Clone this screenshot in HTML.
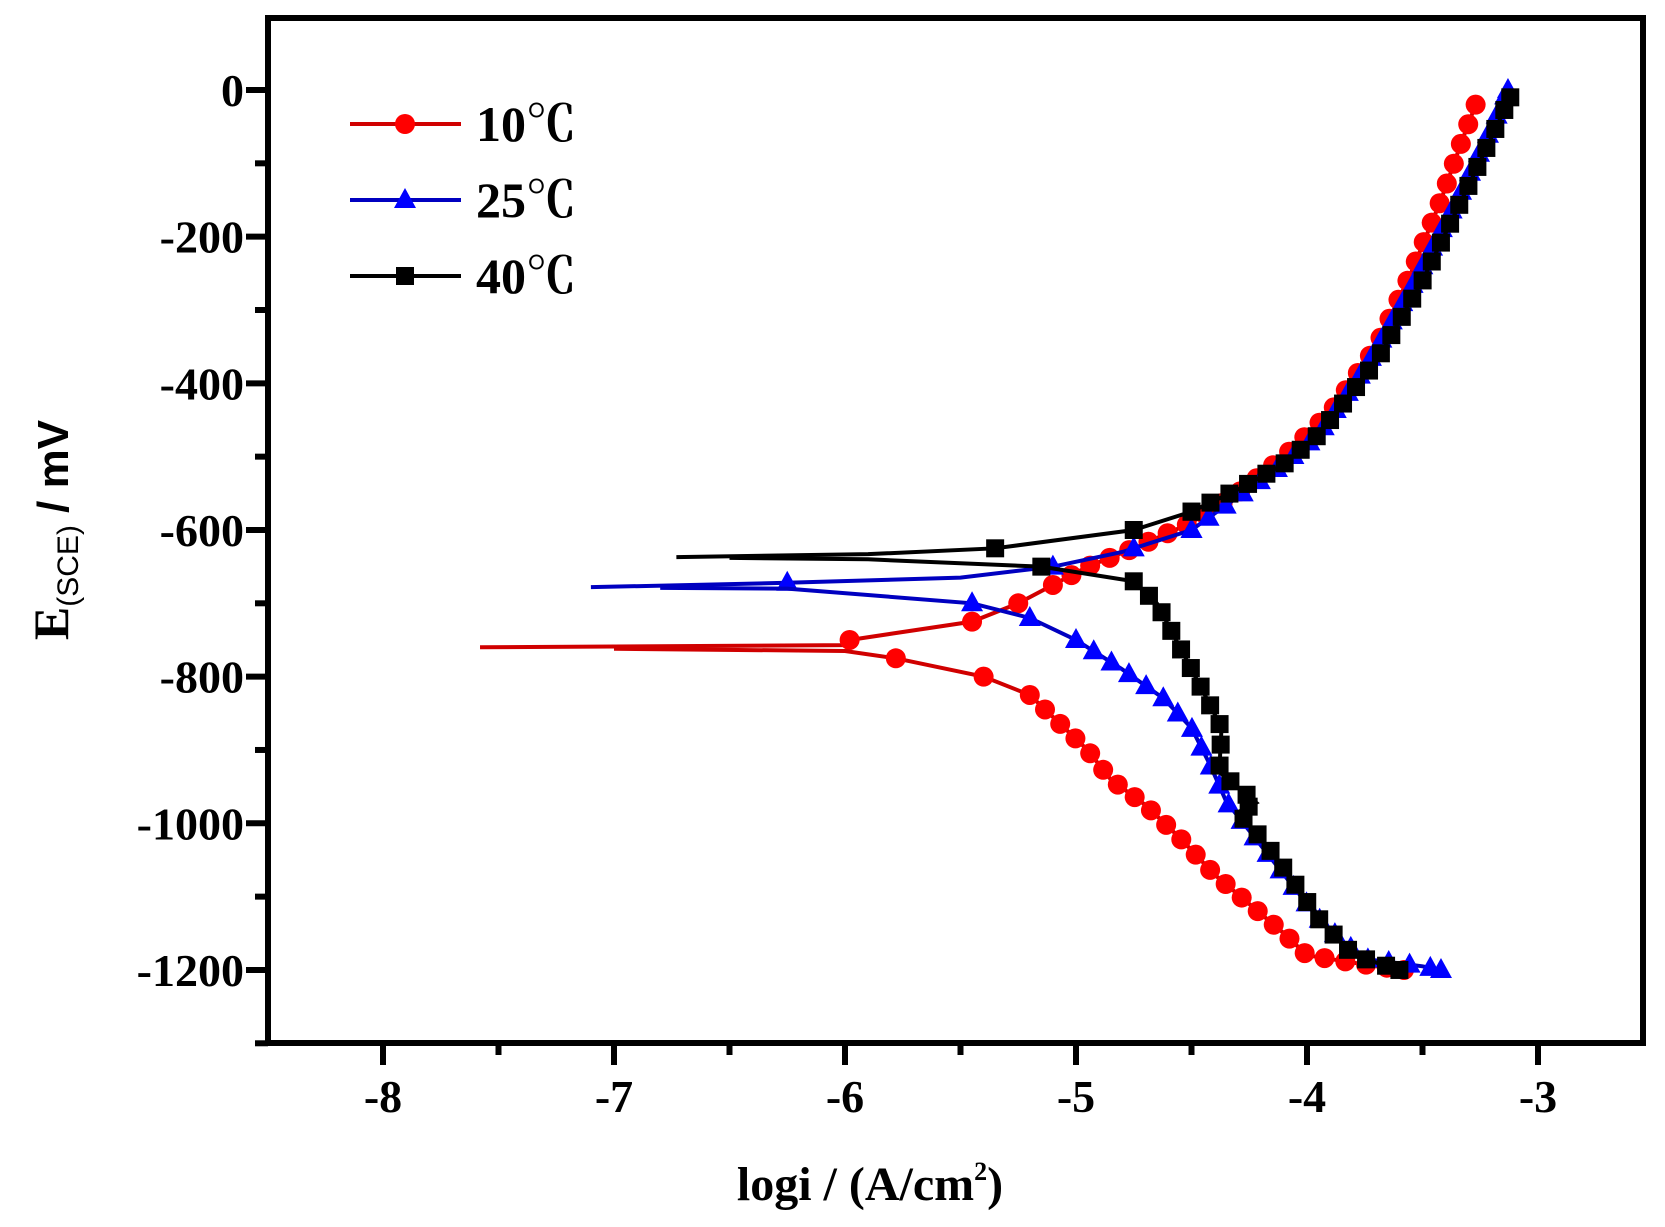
<!DOCTYPE html>
<html><head><meta charset="utf-8"><style>
html,body{margin:0;padding:0;background:#fff;}
svg{display:block;}
</style></head><body>
<svg id="s" width="1665" height="1227" xmlns="http://www.w3.org/2000/svg" font-family="Liberation Serif, serif" font-weight="bold">
<rect width="1665" height="1227" fill="#fff"/>
<g id="plot"></g>
<rect x="268" y="18" width="1375" height="1025" fill="none" stroke="#000" stroke-width="6"/>
<g id="ticks" stroke="#000" stroke-width="6"></g>
<g font-size="46" text-anchor="end" id="yl"></g>
<g font-size="46" text-anchor="middle" id="xl"></g>
<text x="870" y="1200" font-size="48" text-anchor="middle">logi / (A/cm<tspan font-size="26" dy="-20">2</tspan><tspan dy="20">)</tspan></text>
<g transform="translate(68,530) rotate(-90)">
<text x="0" y="0" font-size="50" text-anchor="middle">E<tspan font-family="Liberation Sans, sans-serif" font-size="30" font-weight="normal" dy="10">(SCE)</tspan><tspan font-family="Liberation Sans, sans-serif" font-size="44" dy="-10"> / mV</tspan></text>
</g>
<g id="leg"></g>
</svg>
<script>
const NS="http://www.w3.org/2000/svg";
const X=v=>383+(v+8)*231, Y=e=>90-e*0.7333;
function el(t,a,p){const e=document.createElementNS(NS,t);for(const k in a)e.setAttribute(k,a[k]);(p||document.getElementById('plot')).appendChild(e);return e;}
const tk=document.getElementById('ticks');
for(let e=0;e>=-1300;e-=100){const maj=e%200==0;const y=Y(e);el('line',{x1:maj?246:255,x2:268,y1:y,y2:y},tk);
 if(maj&&e>=-1200){const t=el('text',{x:244,y:y+16},document.getElementById('yl'));t.textContent=e;}}
for(let v=-8;v<=-2.6;v+=0.5){const maj=Math.abs(v-Math.round(v))<0.01;const x=X(v);el('line',{x1:x,x2:x,y1:1043,y2:maj?1065:1055},tk);
 if(maj){const t=el('text',{x:x,y:1112},document.getElementById('xl'));t.textContent=Math.round(v);}}
const S=[
{c:'#f00',lc:'#d00000',m:'o',br:[
{p:[[-7.58,-760],[-6.0,-757],[-5.98,-750],[-5.45,-725],[-5.25,-700],[-5.1,-675],[-4.95,-650],[-4.75,-625],[-4.5,-590],[-4.3,-550],[-4.1,-500],[-3.9,-440],[-3.7,-350],[-3.55,-250],[-3.42,-150],[-3.33,-70],[-3.27,-20]],
 sp:[[-5.98,-750],[-5.45,-725],[-5.25,-700]],d:5},
{p:[[-7.0,-762],[-6.0,-765],[-5.78,-775],[-5.4,-800],[-5.2,-825],[-5.05,-870],[-4.95,-900],[-4.85,-940],[-4.7,-975],[-4.55,-1020],[-4.4,-1070],[-4.25,-1110],[-4.1,-1150],[-4.0,-1180],[-3.7,-1195],[-3.58,-1200]],
 sp:[[-5.78,-775],[-5.4,-800]],d:4}]},
{c:'#00f',lc:'#0000c0',m:'t',br:[
{p:[[-7.1,-678],[-6.25,-672],[-5.5,-665],[-5.1,-650],[-4.8,-630],[-4.5,-600],[-4.3,-555],[-4.1,-510],[-3.95,-470],[-3.75,-380],[-3.55,-270],[-3.35,-150],[-3.2,-50],[-3.13,0]],
 sp:[[-6.25,-672],[-5.1,-650],[-4.75,-625],[-4.5,-600]],d:5},
{p:[[-6.8,-679],[-6.25,-680],[-5.45,-700],[-5.2,-720],[-5.0,-750],[-4.8,-790],[-4.62,-830],[-4.5,-870],[-4.42,-920],[-4.35,-970],[-4.25,-1010],[-4.1,-1070],[-3.95,-1130],[-3.85,-1160],[-3.75,-1185],[-3.5,-1195],[-3.42,-1200]],
 sp:[[-5.45,-700],[-5.2,-720]],d:4}]},
{c:'#000',lc:'#000',m:'s',br:[
{p:[[-6.73,-637],[-5.9,-633],[-5.35,-625],[-4.75,-600],[-4.5,-575],[-4.3,-545],[-4.1,-510],[-3.95,-470],[-3.7,-370],[-3.5,-260],[-3.3,-130],[-3.15,-30],[-3.12,-10]],
 sp:[[-5.35,-625],[-4.75,-600],[-4.5,-575]],d:4},
{p:[[-6.5,-638],[-5.9,-640],[-5.15,-650],[-4.75,-670],[-4.65,-700],[-4.55,-760],[-4.45,-820],[-4.37,-870],[-4.38,-930],[-4.22,-972],[-4.3,-985],[-4.2,-1020],[-4.08,-1070],[-3.95,-1130],[-3.8,-1180],[-3.6,-1200]],
 sp:[[-5.15,-650]],d:3}]}];
function mk(type,x,y,c,p){if(type=='o')el('circle',{cx:x,cy:y,r:10,fill:c},p);
 else if(type=='t')el('polygon',{points:`${x},${y-12} ${x-11},${y+8} ${x+11},${y+8}`,fill:c},p);
 else el('rect',{x:x-9,y:y-9,width:18,height:18,fill:c},p);}
S.forEach(s=>{s.br.forEach(b=>{const pts=b.p.map(p=>[X(p[0]),Y(p[1])]);
 el('polyline',{points:pts.map(p=>p.join(',')).join(' '),fill:'none',stroke:s.lc,'stroke-width':4});
 b.sp.forEach(q=>mk(s.m,X(q[0]),Y(q[1]),s.c));
 const st=b.d; mk(s.m,pts[st][0],pts[st][1],s.c);
 let acc=0;const step=21;
 for(let i=st+1;i<pts.length;i++){const a=pts[i-1],bq=pts[i];const L=Math.hypot(bq[0]-a[0],bq[1]-a[1]);let d=step-acc;
  while(d<=L){mk(s.m,a[0]+(bq[0]-a[0])*d/L,a[1]+(bq[1]-a[1])*d/L,s.c);d+=step;} acc=L-(d-step);}
 const l=pts[pts.length-1];mk(s.m,l[0],l[1],s.c);});});
const lg=document.getElementById('leg');
[['10℃','#f00','#d00000','o',124],['25℃','#00f','#0000c0','t',200],['40℃','#000','#000','s',276]].forEach(r=>{
 el('line',{x1:350,x2:461,y1:r[4],y2:r[4],stroke:r[2],'stroke-width':4},lg);mk(r[3],405,r[4],r[1],lg);
 const t=el('text',{x:476,y:r[4]+17,'font-size':50,'font-family':'Liberation Serif, Noto Serif CJK SC, serif'},lg);t.textContent=r[0];});
</script>
</body></html>
